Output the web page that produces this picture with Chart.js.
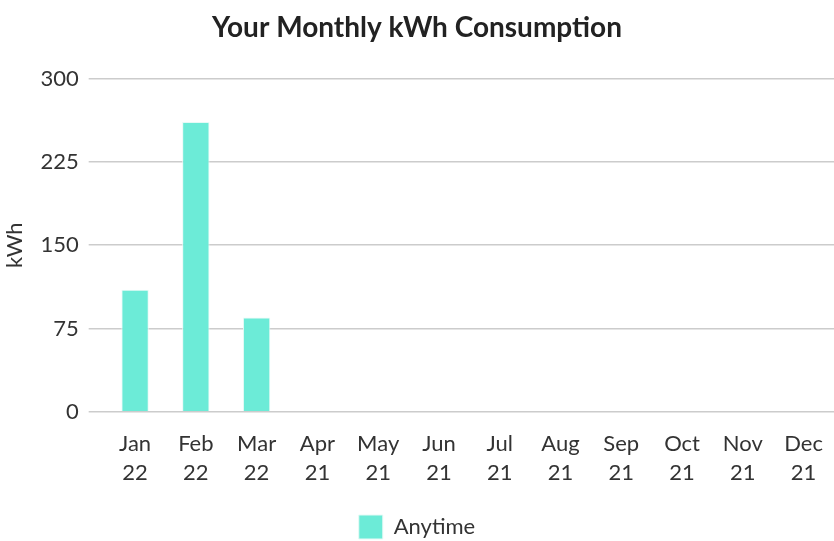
<!DOCTYPE html>
<html>
<head>
<meta charset="utf-8">
<script src="https://cdn.jsdelivr.net/npm/chart.js@4"></script>
<style>
    html, body { margin: 0; padding: 0; background: #fff; }
    #wrap { width: 834px; height: 541px; }
</style>
</head>
<body>
<div id="wrap"><canvas id="myChart"></canvas></div>
<script>
const months = [['Jan', '22'], ['Feb', '22'], ['Mar', '22'], ['Apr', '21'], ['May', '21'], ['Jun', '21'],
    ['Jul', '21'], ['Aug', '21'], ['Sep', '21'], ['Oct', '21'], ['Nov', '21'], ['Dec', '21']];

const anytime = [110, 261, 85, null, null, null, null, null, null, null, null, null];

const yTicks = [0, 75, 150, 225, 300];

Chart.defaults.font.family = 'Lato, "Open Sans", sans-serif';
Chart.defaults.color = '#333';

var ctx = document.getElementById('myChart').getContext('2d');
new Chart(ctx, {
    type: 'bar',
    data: {
        labels: months,
        datasets: [{
            label: 'Anytime',
            data: anytime,
            backgroundColor: '#6cebd7',
            borderColor: '#e6faf6',
            borderWidth: 1,
            barPercentage: 0.5,
            categoryPercentage: 0.9
        }]
    },
    options: {
        responsive: true,
        maintainAspectRatio: false,
        animation: false,
        layout: { padding: { top: 11, bottom: -8 } },
        plugins: {
            title: {
                display: true,
                text: 'Your Monthly kWh Consumption',
                font: { size: 28, weight: 'bold' },
                color: '#222',
                padding: { top: 0, bottom: 34 }
            },
            legend: {
                position: 'bottom',
                labels: {
                    font: { size: 22 },
                    boxWidth: 24,
                    boxHeight: 24,
                    padding: 2
                }
            },
            tooltip: { enabled: false }
        },
        scales: {
            x: {
                grid: { display: false },
                border: { display: false },
                ticks: { font: { size: 22, lineHeight: 1.3 }, maxRotation: 0, autoSkip: false, padding: 10 },
                afterFit: (scale) => { scale.height += 16; }
            },
            y: {
                min: 0,
                max: 300,
                afterBuildTicks: (axis) => { axis.ticks = yTicks.map(v => ({ value: v })); },
                border: { display: false },
                grid: { color: '#cccccc', lineWidth: 1.5, tickLength: 16 },
                ticks: { font: { size: 22 }, padding: 10 },
                title: { display: true, text: 'kWh', font: { size: 22 }, padding: 2 }
            }
        }
    }
});
</script>
</body>
</html>
